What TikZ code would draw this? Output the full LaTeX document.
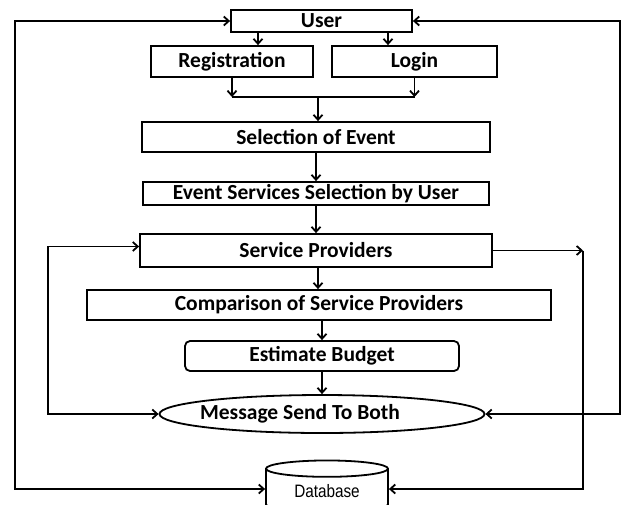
\documentclass[tikz,border=0pt]{standalone}
\usepackage{fontspec}
\setmainfont{Carlito}
\newfontfamily\dbfont[FakeStretch=0.85]{Liberation Sans}
\usetikzlibrary{shapes.geometric,arrows.meta}

\tikzset{
  stage/.style={draw, line width=1.8pt, inner sep=0pt,
    font=\bfseries\fontsize{21.5}{24}\selectfont},
  budget/.style={stage, rounded corners=5pt},
  msgnode/.style={stage, ellipse, inner xsep=-40pt},
  store/.style={draw, line width=1.8pt, cylinder, shape border rotate=90,
    aspect=0.25, minimum width=122, minimum height=52, inner sep=0pt,
    font=\dbfont\fontsize{18}{20}\selectfont},
}

\begin{document}
\begin{tikzpicture}[x=1pt,y=-1pt, line width=1.8pt,
    >={Straight Barb[length=5pt,width=9pt]}]
  \useasboundingbox (0,0) rectangle (623,504);

  % boxes
  \node[stage, minimum width=181, minimum height=22] (user) at (321.5,21) {User};
  \node[stage, minimum width=162, minimum height=31] (reg) at (232,61.5) {Registration};
  \node[stage, minimum width=165, minimum height=31] (login) at (414.5,61.5) {Login};
  \node[stage, minimum width=348, minimum height=30] (event) at (316,137) {Selection of Event};
  \node[stage, minimum width=346, minimum height=23] (services) at (316,193.5) {Event Services Selection by User};
  \node[stage, minimum width=352, minimum height=33] (sp) at (316,250.5) {Service Providers};
  \node[stage, minimum width=464, minimum height=30] (comp) at (319,305) {Comparison of Service Providers};
  \node[budget, minimum width=274, minimum height=30] (est) at (322,356) {Estimate Budget};
  \node[msgnode, minimum width=325, minimum height=38] (msg) at (322,414) {Message Send To Both\hspace*{44pt}};
  \node[store] (db) at (327,491) {Database};

  \coordinate (join) at (318,97);
  \coordinate (outerL) at (15,21);
  \coordinate (outerR) at (620,21);
  \coordinate (innerL) at (48,246.5);
  \coordinate (innerR) at (583,250.5);

  % main flow
  \draw[->] (258,0 |- user.south) -- (258,0 |- reg.north);
  \draw[->] (388,0 |- user.south) -- (388,0 |- login.north);
  \draw[->] (reg.south) -- (reg.south |- join);
  \draw[->] (login.south) -- (login.south |- join);
  \draw (reg.south |- join) -- (login.south |- join);
  \draw[->] (join) -- (join |- event.north);
  \draw[->] (event.south) -- (services.north);
  \draw[->] (services.south) -- (sp.north);
  \draw[->] (318,0 |- sp.south) -- (318,0 |- comp.north);
  \draw[->] (322,0 |- comp.south) -- (322,0 |- est.north);
  \draw[->] (est.south) -- (msg.north);

  % loops
  \draw[<->] (user.west) -- (outerL) |- ([yshift=2pt]db.west);
  \draw[<->] (user.east) -- (outerR) |- (msg.east);
  \draw[<->] (innerL -| sp.west) -- (innerL) |- (msg.west);
  \draw[->] (sp.east) -- (innerR);
  \draw[->] (innerR) |- ([yshift=2pt]db.east);
\end{tikzpicture}
\end{document}
